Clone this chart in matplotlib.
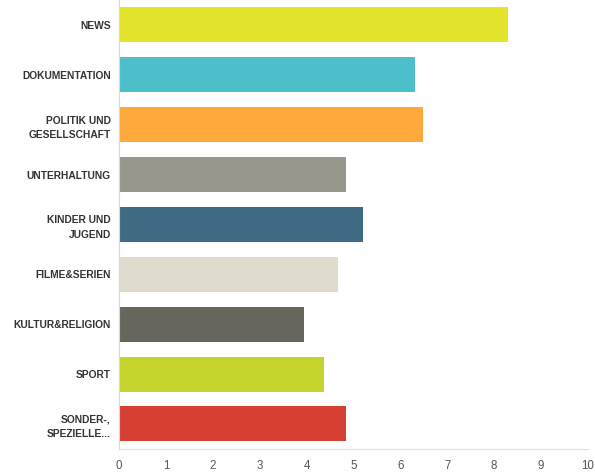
import matplotlib.pyplot as plt
import numpy as np

# Kategorien und Werte (von oben nach unten)
categories = ["NEWS", "DOKUMENTATION", "POLITIK UND\nGESELLSCHAFT", "UNTERHALTUNG",
              "KINDER UND\nJUGEND", "FILME&SERIEN", "KULTUR&RELIGION", "SPORT",
              "SONDER-,\nSPEZIELLE..."]
values = [8.29, 6.32, 6.49, 4.84, 5.20, 4.67, 3.94, 4.37, 4.84]
colors = ["#e3e52c", "#4cbfca", "#ffa83c", "#98978b", "#3f6c83",
          "#dfdccd", "#67665d", "#c5d52d", "#d83f33"]
xticks = list(range(0, 11))

plt.rcParams['font.family'] = ['Liberation Sans', 'DejaVu Sans']

fig = plt.figure(figsize=(5.95, 4.73), dpi=100)
ax = fig.add_axes([0.2, 0.051, 0.788, 0.949])

y = np.arange(len(categories))
ax.barh(y, values, height=0.7, color=colors)

ax.set_ylim(len(categories) - 0.5, -0.5)
ax.set_xlim(0, 10)
ax.set_yticks(y)
ax.set_yticklabels(categories, fontsize=7.4, fontweight="bold", color="#333333",
                   linespacing=1.55)
ax.set_xticks(xticks)
ax.set_xticklabels([str(t) for t in xticks], fontsize=8.3, color="#555555")
ax.tick_params(axis="both", length=0)
ax.tick_params(axis="y", pad=6)
ax.tick_params(axis="x", pad=8)

for side in ["top", "right"]:
    ax.spines[side].set_visible(False)
ax.spines["left"].set_color("#d8d8d8")
ax.spines["bottom"].set_color("#e2e2e2")
ax.spines["left"].set_linewidth(0.8)
ax.spines["bottom"].set_linewidth(0.8)

fig.savefig("out.png", dpi=100)
